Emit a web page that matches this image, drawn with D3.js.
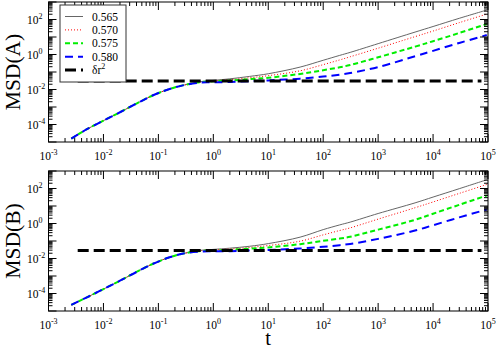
<!DOCTYPE html>
<html><head><meta charset="utf-8">
<script src="https://cdn.jsdelivr.net/npm/d3@7"></script>
<style>
body{margin:0;background:#fff}
svg{display:block}
text{font-family:"Liberation Serif","Times New Roman",serif;fill:#000}
</style>
</head><body>
<svg id="c" width="498" height="349"></svg>
<script>
// ---- data ----
const seriesNames = ["0.565", "0.570", "0.575", "0.580"];
const tShort = [0.0026, 0.005, 0.01, 0.02, 0.04, 0.08, 0.16, 0.3];
const tLong  = [0.6, 1, 2, 4.6, 10, 38, 100, 200, 310, 1000, 4700, 10000, 30000, 95000];
const msdA_short = [1.58e-5, 5.37e-5, 1.66e-4, 5.01e-4, 1.58e-3, 4.68e-3, 0.0107, 0.0182];
const msdB_short = [2.24e-5, 6.03e-5, 1.78e-4, 5.37e-4, 1.70e-3, 5.01e-3, 0.0117, 0.0200];
const msdA_0565 = [0.0282, 0.0331, 0.0407, 0.0562, 0.0794, 0.191, 0.468, 0.891, 1.32, 4.17, 19.1, 39.8, 117, 347];
const msdA_0570 = [0.0275, 0.0316, 0.0363, 0.0468, 0.0617, 0.117, 0.263, 0.490, 0.741, 2.29, 10.5, 21.9, 66.1, 204];
const msdA_0575 = [0.0269, 0.0295, 0.0324, 0.0389, 0.0468, 0.0776, 0.126, 0.186, 0.251, 0.692, 2.82, 5.75, 17.0, 55.0];
const msdA_0580 = [0.0251, 0.0257, 0.0269, 0.0295, 0.0331, 0.0417, 0.0550, 0.0708, 0.0871, 0.191, 0.794, 1.62, 4.57, 12.9];
const msdB_0565 = [0.0295, 0.0331, 0.0389, 0.0501, 0.0708, 0.166, 0.447, 0.832, 1.20, 3.72, 15.1, 32.4, 97.7, 316];
const msdB_0570 = [0.0282, 0.0309, 0.0347, 0.0427, 0.0550, 0.0977, 0.224, 0.398, 0.562, 1.78, 7.94, 17.0, 52.5, 170];
const msdB_0575 = [0.0269, 0.0288, 0.0309, 0.0363, 0.0427, 0.0661, 0.102, 0.138, 0.174, 0.447, 1.62, 3.63, 11.7, 39.8];
const msdB_0580 = [0.0251, 0.0257, 0.0263, 0.0282, 0.0309, 0.0372, 0.0468, 0.0575, 0.0676, 0.132, 0.398, 0.794, 2.24, 6.31];
const deltaR2 = [0.031, 0.029];          // plateau value, panel A and B
const deltaRange = [0.0034, 76000];      // t range of the plateau line
const xTickExps = [-3, -2, -1, 0, 1, 2, 3, 4, 5];
const yTickExps = [-4, -2, 0, 2];

// ---- styles ----
const styles = [
  {color: "#666", width: 1, dash: null},
  {color: "#ff0000", width: 1, dash: "1,2"},
  {color: "#00ee00", width: 2, dash: "5,3"},
  {color: "#0000ff", width: 2, dash: "8,5"}
];
const deltaStyle = {color: "#000", width: 3, dash: "11,5"};

const svg = d3.select("#c");
const L = 48.5, R = 488;
const x = d3.scaleLog().domain([1e-3, 1e5]).range([L, R]);
const tAll = tShort.concat(tLong);

const panels = [
  {top: 2, bottom: 142, label: "MSD(A)", short: msdA_short, long: [msdA_0565, msdA_0570, msdA_0575, msdA_0580], delta: deltaR2[0]},
  {top: 171, bottom: 311, label: "MSD(B)", short: msdB_short, long: [msdB_0565, msdB_0570, msdB_0575, msdB_0580], delta: deltaR2[1]}
];

panels.forEach((p, pi) => {
  const y = d3.scaleLog().domain([1e-5, 1e3]).range([p.bottom, p.top]);
  const g = svg.append("g");
  const line = d3.line().x(d => x(d[0])).y(d => y(d[1])).curve(d3.curveCatmullRom.alpha(0.5));

  // curves
  p.long.forEach((vals, i) => {
    const data = tAll.map((t, k) => [t, k < tShort.length ? p.short[k] : vals[k - tShort.length]]);
    const s = styles[i];
    g.append("path").datum(data).attr("d", line).attr("fill", "none")
      .attr("stroke", s.color).attr("stroke-width", s.width)
      .attr("stroke-dasharray", s.dash);
  });

  // plateau
  g.append("path").datum(deltaRange.map(t => [t, p.delta]))
    .attr("d", d3.line().x(d => x(d[0])).y(d => y(d[1]))).attr("fill", "none")
    .attr("stroke", deltaStyle.color).attr("stroke-width", deltaStyle.width)
    .attr("stroke-dasharray", deltaStyle.dash);

  // frame
  g.append("rect").attr("x", L).attr("y", p.top).attr("width", R - L).attr("height", p.bottom - p.top)
    .attr("fill", "none").attr("stroke", "#000").attr("stroke-width", 1);

  // x ticks
  const tk = g.append("g").attr("stroke", "#000").attr("stroke-width", 1);
  for (let e = -3; e <= 5; e++) {
    for (let k = 1; k <= 9; k++) {
      const v = k * Math.pow(10, e);
      if (v > 1e5 * 1.0001) continue;
      const xx = x(v), len = k === 1 ? 8 : 4;
      tk.append("line").attr("x1", xx).attr("x2", xx).attr("y1", p.bottom).attr("y2", p.bottom - len);
      tk.append("line").attr("x1", xx).attr("x2", xx).attr("y1", p.top).attr("y2", p.top + len);
    }
  }
  // y ticks
  for (let e = -5; e <= 3; e++) {
    for (let k = 1; k <= 9; k++) {
      const v = k * Math.pow(10, e);
      if (v > 1e3 * 1.0001) continue;
      const yy = y(v), len = k === 1 ? 8 : 4;
      tk.append("line").attr("y1", yy).attr("y2", yy).attr("x1", L).attr("x2", L + len);
      tk.append("line").attr("y1", yy).attr("y2", yy).attr("x1", R).attr("x2", R - len);
    }
  }

  // x tick labels
  xTickExps.forEach(e => {
    const t = g.append("text").attr("x", x(Math.pow(10, e))).attr("y", p.bottom + 17.5)
      .attr("text-anchor", "middle").attr("font-size", 11.5).text("10");
    t.append("tspan").attr("dy", -5).attr("font-size", 8).text(String(e));
  });
  // y tick labels
  yTickExps.forEach(e => {
    const t = g.append("text").attr("x", 27).attr("y", y(Math.pow(10, e)) + 4.5)
      .attr("text-anchor", "start").attr("font-size", 11.5).text("10");
    t.append("tspan").attr("dy", -5).attr("font-size", 8).text(String(e));
  });

  // y label
  g.append("text").attr("transform", `translate(19.5,${(p.top + p.bottom) / 2}) rotate(-90)`)
    .attr("text-anchor", "middle").attr("font-size", 21.5).text(p.label);

  // legend (top panel)
  if (pi === 0) {
    const lg = g.append("g");
    lg.append("rect").attr("x", 60).attr("y", 5).attr("width", 66).attr("height", 77)
      .attr("fill", "#fff").attr("stroke", "#333").attr("stroke-width", 1);
    const rows = [16.5, 29.9, 43.3, 56.7, 70.1];
    const items = seriesNames.map((n, i) => ({name: n, s: styles[i]}));
    items.push({name: "δr", sup: "2", s: deltaStyle});
    items.forEach((it, i) => {
      const yy = rows[i];
      lg.append("line").attr("x1", 65).attr("x2", 83).attr("y1", yy).attr("y2", yy)
        .attr("stroke", it.s.color).attr("stroke-width", it.s.width).attr("stroke-dasharray", it.s.dash);
      const t = lg.append("text").attr("x", 92).attr("y", yy + 4).attr("font-size", 11.5).text(it.name);
      if (it.sup) t.append("tspan").attr("dy", -5).attr("font-size", 8).text(it.sup);
    });
  }
});

// x label
svg.append("text").attr("x", 268).attr("y", 344.5).attr("text-anchor", "middle").attr("font-size", 20.5).text("t");
</script>
</body></html>
